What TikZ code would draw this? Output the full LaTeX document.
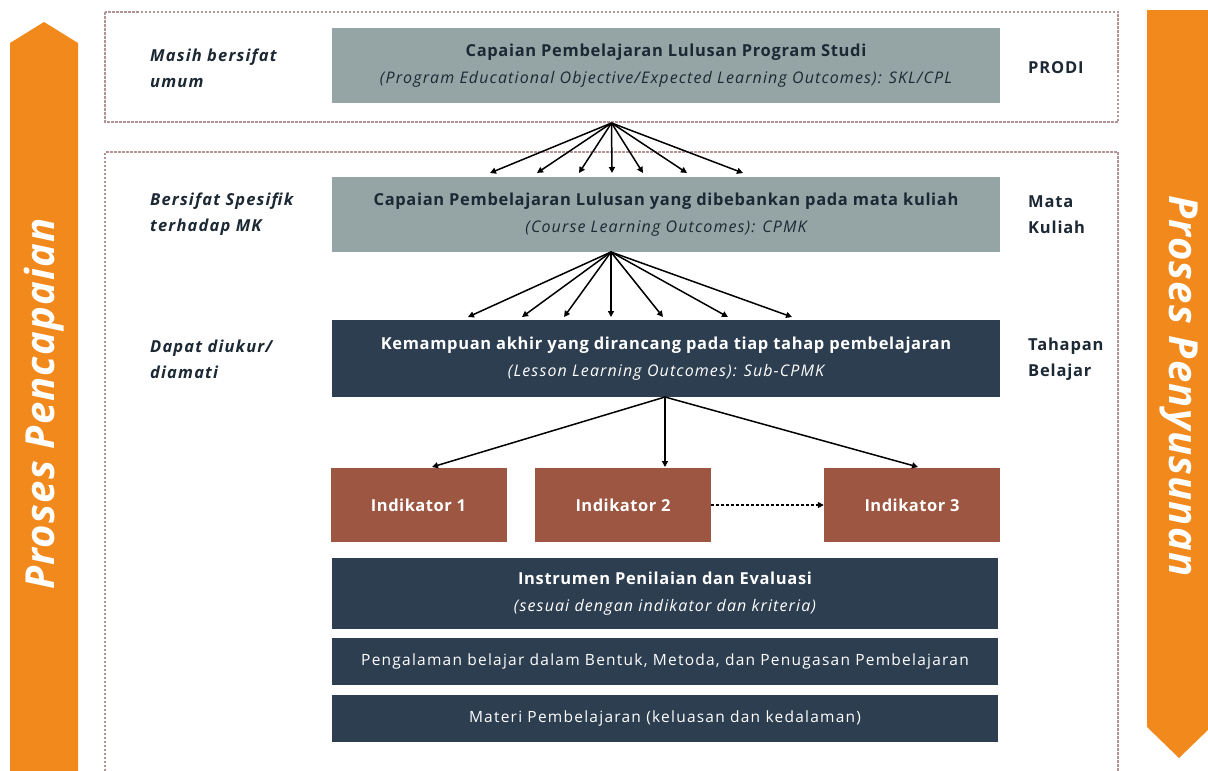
\documentclass[tikz,border=0pt]{standalone}
\usepackage{fontspec}
\setmainfont{Open Sans}
\usetikzlibrary{arrows.meta}
\definecolor{cgray}{HTML}{95A5A6}
\definecolor{cnavy}{HTML}{2C3E50}
\definecolor{cbrown}{HTML}{9D5641}
\definecolor{corange}{HTML}{F2891C}
\definecolor{cdash}{HTML}{B39494}
\definecolor{cdark}{HTML}{1C2833}
\newcommand{\ttlline}[1]{{\fontsize{16.5}{27}\selectfont\bfseries\addfontfeatures{LetterSpace=4}#1}}
\newcommand{\subline}[1]{{\fontsize{16}{27}\selectfont\itshape\addfontfeatures{LetterSpace=7}#1}}
\begin{document}
\begin{tikzpicture}[x=1pt,y=-1pt,
  grpbox/.style={draw=cdash, line width=1.1pt, dash pattern=on 2.5pt off 1.5pt},
  graybox/.style={fill=cgray, draw=none, text=cdark, minimum width=668pt, minimum height=75pt, align=center, inner sep=0pt, font=\fontsize{16}{27}\selectfont},
  navybox/.style={fill=cnavy, draw=none, text=white, minimum width=668pt, align=center, inner sep=0pt, font=\fontsize{16}{27}\selectfont},
  plainbox/.style={navybox, minimum width=666pt, minimum height=47pt, font=\fontsize{15.5}{18}\selectfont\addfontfeatures{LetterSpace=8}},
  indbox/.style={fill=cbrown, draw=none, text=white, minimum width=176pt, minimum height=74pt, inner sep=0pt, font=\fontsize{16.5}{18}\selectfont\bfseries\addfontfeatures{LetterSpace=3}},
  sidelab/.style={anchor=west, align=left, inner sep=0pt, text=cdark, font=\fontsize{16.5}{26}\selectfont\bfseries\itshape\addfontfeatures{LetterSpace=7}},
  rightlab/.style={anchor=west, align=left, inner sep=0pt, text=cdark, font=\fontsize{16.5}{26}\selectfont\bfseries\addfontfeatures{LetterSpace=5}},
  fan/.style={-{Triangle[length=6pt,width=6pt]}, line width=1.5pt, black},
  orangelab/.style={text=white, inner sep=0pt, font=\fontsize{40}{44}\selectfont\bfseries\itshape\addfontfeatures{LetterSpace=3}}
]
\useasboundingbox (0,0) rectangle (1208,771);
\fill[white] (0,0) rectangle (1208,771);

% orange process arrows
\fill[corange] (10,771) -- (10,43) -- (44,22) -- (78,43) -- (78,771) -- cycle;
\fill[corange] (1147,10) -- (1211,10) -- (1211,727) -- (1179,758) -- (1147,727) -- cycle;
\node[orangelab, rotate=90] (lpc) at (44,404) {Proses Pencapaian};
\node[orangelab, rotate=-90] (lpy) at (1179,386) {Proses Penyusunan};

% dashed groups
\draw[grpbox] (105,12) rectangle (1118,122);
\draw[grpbox] (105,771) -- (105,152) -- (1118,152) -- (1118,771);

% main boxes
\node[graybox] (b1) at (666,65.5) {\ttlline{Capaian Pembelajaran Lulusan Program Studi}\\\subline{(Program Educational Objective/Expected Learning Outcomes): SKL/CPL}};
\node[graybox] (b2) at (666,214.5) {\ttlline{Capaian Pembelajaran Lulusan yang dibebankan pada mata kuliah}\\\subline{(Course Learning Outcomes): CPMK}};
\node[navybox, minimum height=77pt] (b3) at (666,358.5) {\ttlline{Kemampuan akhir yang dirancang pada tiap tahap pembelajaran}\\\subline{(Lesson Learning Outcomes): Sub-CPMK}};

\node[indbox] (i1) at (418.5,505) {Indikator 1};
\node[indbox] (i2) at (623,505) {Indikator 2};
\node[indbox] (i3) at (912,505) {Indikator 3};

\node[navybox, minimum width=666pt, minimum height=71pt] (b4) at (665,593.5) {\ttlline{Instrumen Penilaian dan Evaluasi}\\\subline{(sesuai dengan indikator dan kriteria)}};
\node[plainbox] (b5) at (665,661.5) {Pengalaman belajar dalam Bentuk, Metoda, dan Penugasan Pembelajaran};
\node[plainbox] (b6) at (665,718.5) {Materi Pembelajaran (keluasan dan kedalaman)};

% side labels
\node[sidelab] (l1) at (150,68.5) {Masih bersifat\\umum};
\node[sidelab] (l2) at (150,214.5) {Bersifat Spesifik\\terhadap MK};
\node[sidelab] (l3) at (150,359.5) {Dapat diukur/\\diamati};
\node[rightlab] (r1) at (1028,68) {PRODI};
\node[rightlab] (r2) at (1028,214.5) {Mata\\Kuliah};
\node[rightlab] (r3) at (1028,359.5) {Tahapan\\Belajar};

% fan 1
\coordinate (s1) at (611.5,123);
\foreach \x [count=\k] in {490,537,579,612,643,687,743} {
  \coordinate (a\k) at (\x,173);
  \draw[fan] (s1) -- (a\k);
}
% fan 2
\coordinate (s2) at (611,252);
\foreach \x [count=\k] in {468,522,564,611,663,728,792} {
  \coordinate (c\k) at (\x,317);
  \draw[fan] (s2) -- (c\k);
}
% fan 3
\coordinate (s3) at (665,397);
\coordinate (d1) at (432,467);
\coordinate (d2) at (665,467);
\coordinate (d3) at (918,467);
\draw[fan] (s3) -- (d1);
\draw[fan] (s3) -- (d2);
\draw[fan] (s3) -- (d3);
\draw[fan, dash pattern=on 3pt off 2pt] (i2.east) -- (i3.west);
\end{tikzpicture}
\end{document}
